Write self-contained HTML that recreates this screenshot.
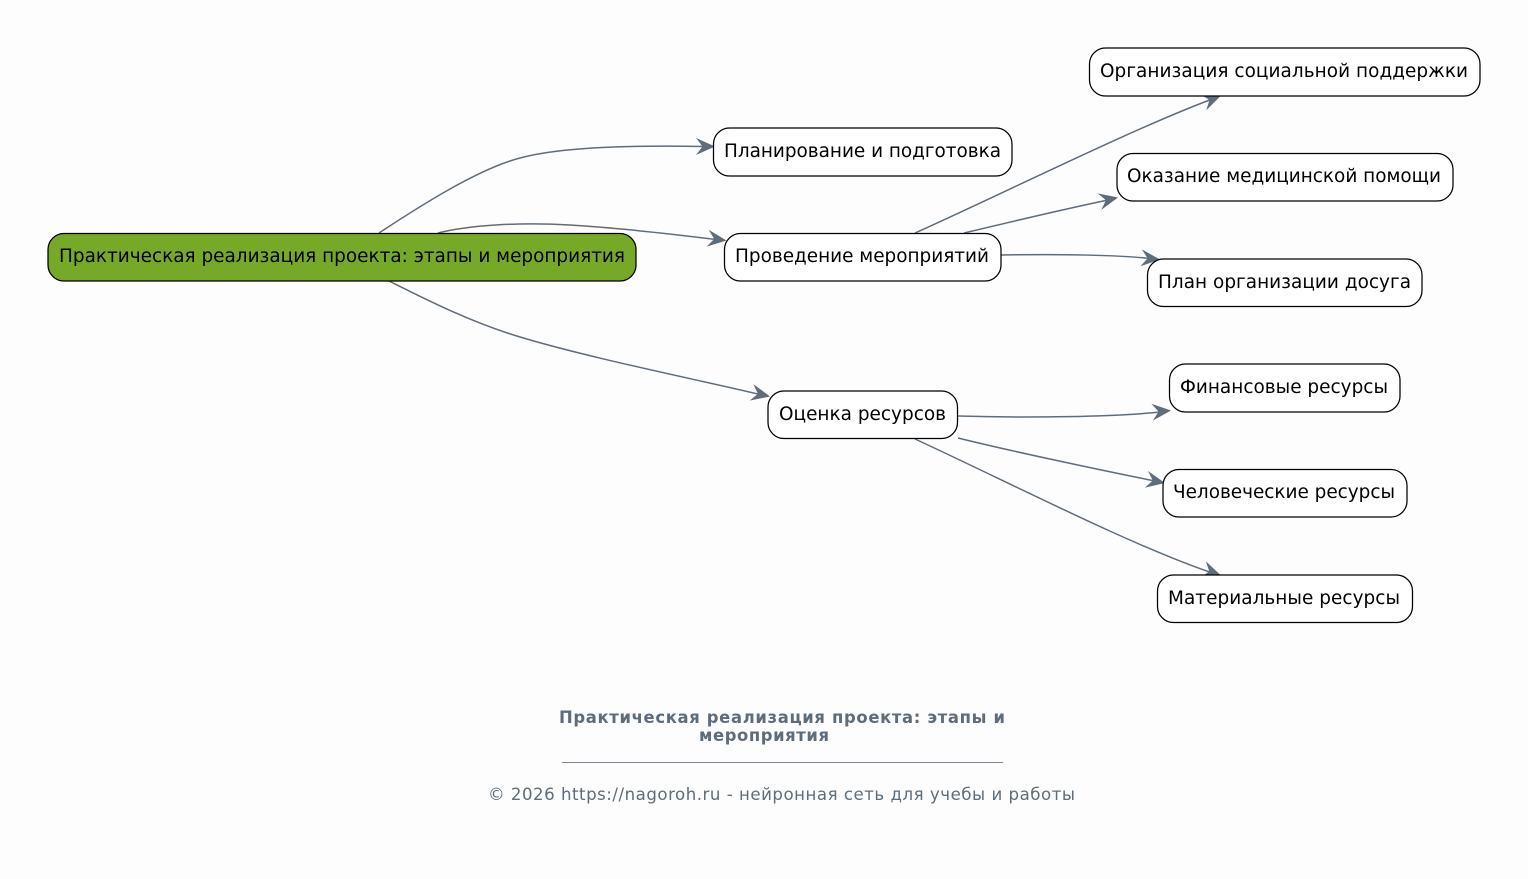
<!DOCTYPE html>
<html lang="ru"><head><meta charset="utf-8"><title>Диаграмма</title>
<style>html,body{margin:0;padding:0;background:#fdfdfd}svg{display:block}
text{font-family:"DejaVu Sans",sans-serif}
.n{fill:#fff;stroke:#000;stroke-width:1.25}
.l{font-size:18.45px;fill:#000}
.e{fill:none;stroke:#5f6d7b;stroke-width:1.5}
.a{fill:#5f6d7b}
</style></head><body>
<svg xmlns="http://www.w3.org/2000/svg" width="1528" height="879" viewBox="0 0 1528 879">
<rect width="1528" height="879" fill="#fdfdfd"/>
<defs><path id="h" d="M0 0 L-19 -8.500 L-13 -0.800 L-13 0.800 L-19 8.500 Z"/></defs>
<path class="e" d="M379 233 C420 206 478 169 520 158 C560 147 630 145 704 146.500"/>
<path class="e" d="M438 233 C470 225 520 222 570 225 C620 228 680 235 716 239.500"/>
<path class="e" d="M389 281 C425 299 470 322 520 337 C590 358 690 378 760 394.500"/>
<path class="e" d="M915 233 C1000 195 1130 130 1211 99.500"/>
<path class="e" d="M964 233 C1010 222 1070 208 1108 200"/>
<path class="e" d="M1001 255 C1060 254 1120 255 1150 258.500"/>
<path class="e" d="M958 416 C1030 418 1110 417 1161 412"/>
<path class="e" d="M958 438 C1010 451 1110 472 1155 481"/>
<path class="e" d="M915 439 C1000 478 1130 545 1211 572.500"/>
<use href="#h" class="a" transform="translate(715 146.500) rotate(0)"/>
<use href="#h" class="a" transform="translate(726.500 240.500) rotate(7)"/>
<use href="#h" class="a" transform="translate(770 396.500) rotate(12.500)"/>
<use href="#h" class="a" transform="translate(1221 95.500) rotate(-21)"/>
<use href="#h" class="a" transform="translate(1118 197.500) rotate(-12.500)"/>
<use href="#h" class="a" transform="translate(1160 259.500) rotate(5)"/>
<use href="#h" class="a" transform="translate(1171 410.500) rotate(-5)"/>
<use href="#h" class="a" transform="translate(1165 483) rotate(11)"/>
<use href="#h" class="a" transform="translate(1221 575.500) rotate(19)"/>
<rect x="48" y="233.500" width="588" height="47.500" rx="16" fill="#76a928" stroke="#000" stroke-width="1.250"/>
<text class="l" x="59" y="262" textLength="566">Практическая реализация проекта: этапы и мероприятия</text>
<rect class="n" x="713.500" y="128" width="298.500" height="48" rx="16"/>
<text class="l" x="724" y="157" textLength="277">Планирование и подготовка</text>
<rect class="n" x="724.500" y="233.500" width="276.500" height="47.500" rx="16"/>
<text class="l" x="735" y="262" textLength="254">Проведение мероприятий</text>
<rect class="n" x="768" y="391" width="189.500" height="47.500" rx="16"/>
<text class="l" x="779" y="420" textLength="167">Оценка ресурсов</text>
<rect class="n" x="1089.500" y="48" width="390.500" height="48" rx="16"/>
<text class="l" x="1100" y="77" textLength="368">Организация социальной поддержки</text>
<rect class="n" x="1117" y="153.500" width="336" height="47.500" rx="16"/>
<text class="l" x="1127" y="182" textLength="314">Оказание медицинской помощи</text>
<rect class="n" x="1147.500" y="259" width="274.500" height="47.500" rx="16"/>
<text class="l" x="1158" y="288" textLength="253">План организации досуга</text>
<rect class="n" x="1169.500" y="364" width="230.500" height="48" rx="16"/>
<text class="l" x="1180" y="393" textLength="208">Финансовые ресурсы</text>
<rect class="n" x="1163" y="469.500" width="244" height="47.500" rx="16"/>
<text class="l" x="1173" y="498" textLength="222">Человеческие ресурсы</text>
<rect class="n" x="1157.500" y="575" width="255" height="47.500" rx="16"/>
<text class="l" x="1168" y="604" textLength="232">Материальные ресурсы</text>
<text x="559" y="723" font-size="16.400" font-weight="700" fill="#5f6d7b" textLength="446">Практическая реализация проекта: этапы и</text>
<text x="699" y="741" font-size="16.400" font-weight="700" fill="#5f6d7b" textLength="130">мероприятия</text>
<line x1="562" y1="762.500" x2="1003" y2="762.500" stroke="#7d8894" stroke-width="1"/>
<text x="488" y="800" font-size="16.600" fill="#5f6d7b" textLength="587">© 2026 https://nagoroh.ru - нейронная сеть для учебы и работы</text>
</svg>
</body></html>
